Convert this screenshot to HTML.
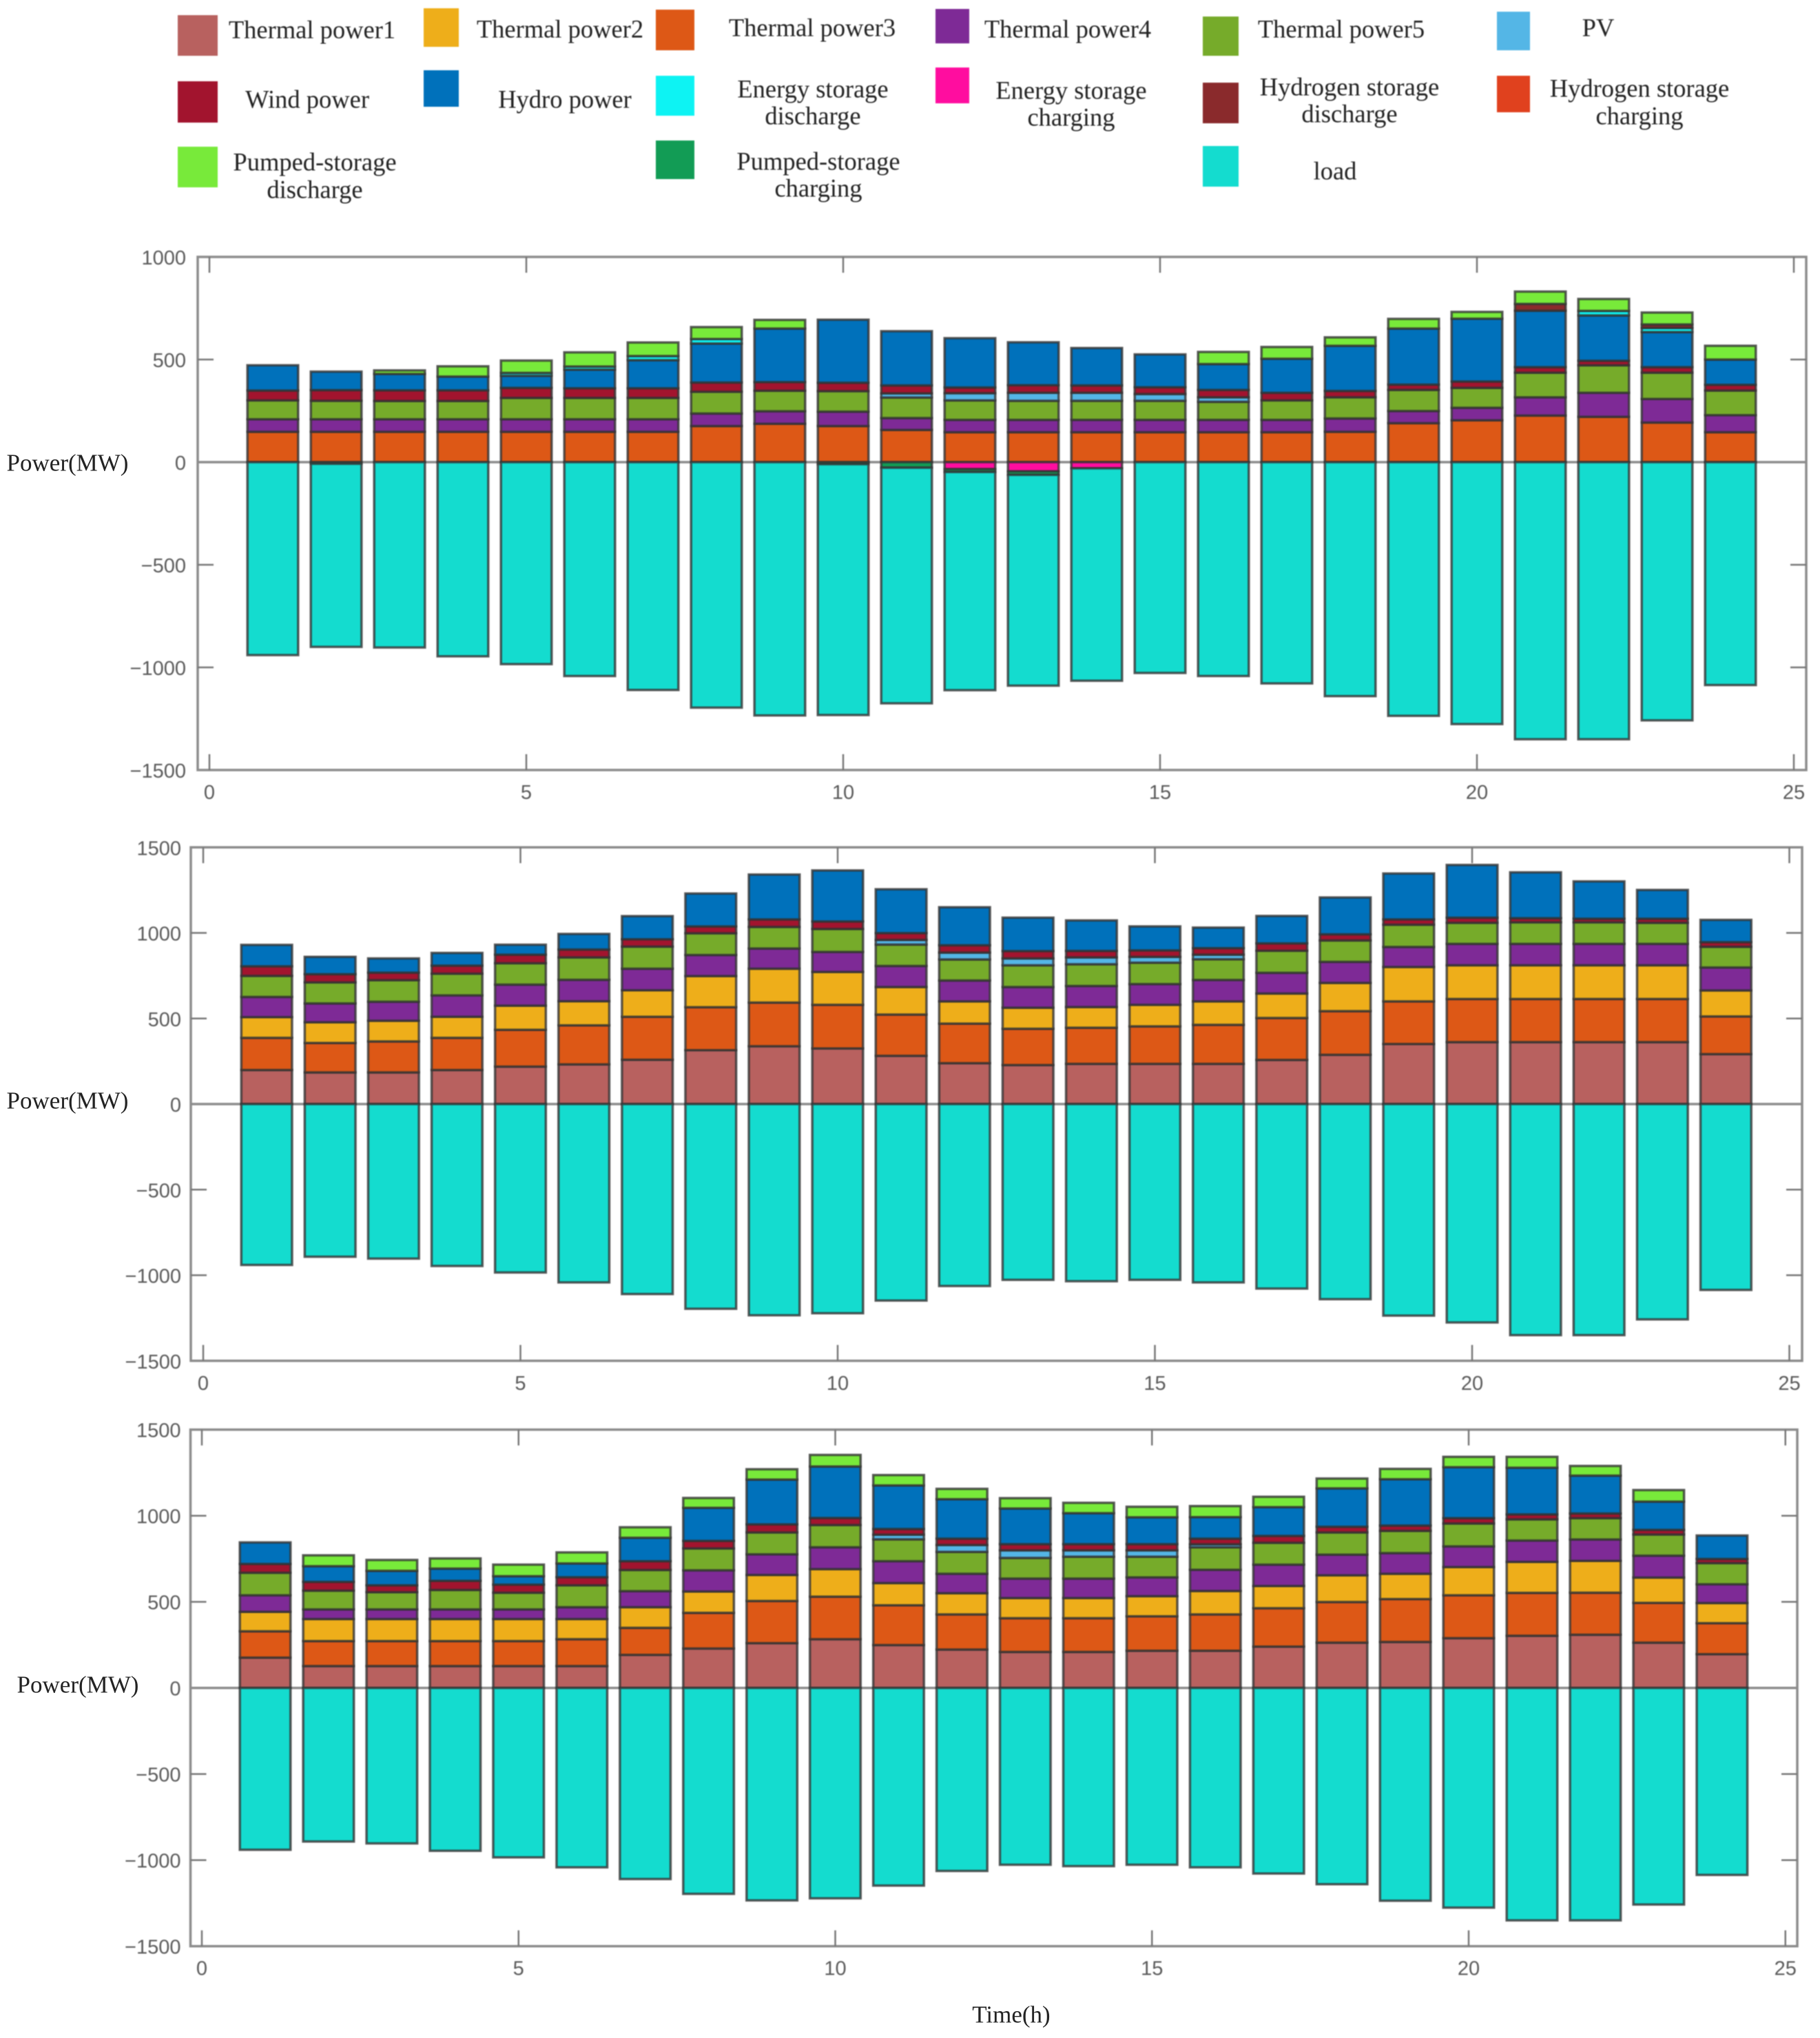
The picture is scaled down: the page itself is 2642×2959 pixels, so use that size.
<!DOCTYPE html>
<html lang="en">
<head>
<meta charset="utf-8">
<title>Stacked power balance charts</title>
<style>
html,body{margin:0;padding:0;background:#fff;}
#figure{display:block;width:2642px;height:2959px;}
.lg{font-family:"Liberation Serif",serif;font-size:36.5px;fill:#222;text-anchor:middle;dominant-baseline:central;}
.tk{font-family:"Liberation Sans",sans-serif;font-size:29px;fill:#5a5a5a;dominant-baseline:central;}
.yt{font-family:"Liberation Serif",serif;font-size:35px;fill:#222;text-anchor:middle;dominant-baseline:central;}
#charts,#legend{filter:blur(0.8px);}
</style>
</head>
<body>
<svg id="figure" xmlns="http://www.w3.org/2000/svg" width="2642" height="2959" viewBox="0 0 2642 2959">
<rect x="0" y="0" width="2642" height="2959" fill="#fff"/>
<g id="legend">
<g><rect x="258" y="22" width="58" height="59" fill="#b8615f"/><text class="lg" x="453" y="43">Thermal power1</text></g>
<g><rect x="615" y="12" width="51" height="56" fill="#eeae1a"/><text class="lg" x="813" y="42">Thermal power2</text></g>
<g><rect x="952" y="14" width="56" height="59" fill="#dd5816"/><text class="lg" x="1179" y="40">Thermal power3</text></g>
<g><rect x="1358" y="13" width="49" height="50" fill="#7e2a96"/><text class="lg" x="1550" y="42">Thermal power4</text></g>
<g><rect x="1746" y="24" width="52" height="57" fill="#76ab2a"/><text class="lg" x="1947" y="42">Thermal power5</text></g>
<g><rect x="2173" y="17" width="48" height="56" fill="#54b6e6"/><text class="lg" x="2320" y="40">PV</text></g>
<g><rect x="258" y="118" width="58" height="60" fill="#a2142e"/><text class="lg" x="446" y="144">Wind power</text></g>
<g><rect x="615" y="102" width="51" height="53" fill="#0071bb"/><text class="lg" x="820" y="144">Hydro power</text></g>
<g><rect x="952" y="110" width="56" height="58" fill="#0df3f3"/><text class="lg" x="1180" y="129">Energy storage</text><text class="lg" x="1180" y="168">discharge</text></g>
<g><rect x="1358" y="98" width="49" height="52" fill="#ff0d9f"/><text class="lg" x="1555" y="131">Energy storage</text><text class="lg" x="1555" y="170">charging</text></g>
<g><rect x="1746" y="120" width="52" height="59" fill="#8a2a2c"/><text class="lg" x="1959" y="126">Hydrogen storage</text><text class="lg" x="1959" y="165">discharge</text></g>
<g><rect x="2173" y="110" width="48" height="53" fill="#e0411e"/><text class="lg" x="2380" y="128">Hydrogen storage</text><text class="lg" x="2380" y="168">charging</text></g>
<g><rect x="258" y="213" width="58" height="59" fill="#78ea3a"/><text class="lg" x="457" y="235">Pumped-storage</text><text class="lg" x="457" y="275">discharge</text></g>
<g><rect x="952" y="204" width="56" height="56" fill="#129c55"/><text class="lg" x="1188" y="234">Pumped-storage</text><text class="lg" x="1188" y="273">charging</text></g>
<g><rect x="1746" y="212" width="52" height="59" fill="#14dccf"/><text class="lg" x="1938" y="248">load</text></g>
</g>
<text class="yt" x="98" y="672">Power(MW)</text>
<text class="yt" x="98" y="1598">Power(MW)</text>
<text class="yt" x="113" y="2446">Power(MW)</text>
<text class="yt" x="1468" y="2925">Time(h)</text>
<g id="charts"></g>
</svg>
<script>
// Shared categories and tick labels
const hours = [1,2,3,4,5,6,7,8,9,10,11,12,13,14,15,16,17,18,19,20,21,22,23,24];
const xTickLabels = [0,5,10,15,20,25];
const topYTickLabels = [1000,500,0,-500,-1000,-1500];
const lowerYTickLabels = [1500,1000,500,0,-500,-1000,-1500];
const noPower = [0,0,0,0,0,0,0,0,0,0,0,0,0,0,0,0,0,0,0,0,0,0,0,0];
const loadDemand = [940,892,903,946,984,1042,1110,1196,1234,1222,1148,1063,1027,1035,1027,1042,1078,1140,1236,1276,1350,1350,1258,1086];

// Top chart series (MW)
const topThermal3 = [148,148,148,148,148,148,148,176,187,176,157,146,146,146,146,146,146,148,190,204,227,221,193,146];
const topThermal4 = [61,61,61,61,61,61,61,61,61,70,58,60,60,60,60,60,60,65,59,61,89,117,115,83];
const topThermal5 = [92,90,89,89,104,104,104,106,100,100,100,95,93,93,93,88,95,103,103,97,120,134,128,120];
const topPv = [0,0,0,0,0,0,0,0,0,0,20,35,39,39,33,22,0,0,0,0,0,0,0,0];
const topWind = [48,52,52,52,49,47,47,45,42,41,39,28,37,36,33,36,37,31,26,31,27,22,27,28];
const topHydro = [123,90,80,67,59,91,137,190,261,307,264,240,209,182,160,126,166,220,273,306,275,221,171,123];
const topStorageDischarge = [0,0,0,0,14,15,20,22,0,0,0,0,0,0,0,0,0,0,0,0,0,22,20,0];
const topHydrogenDischarge = [0,0,0,0,0,0,0,0,0,0,0,0,0,0,0,0,0,0,0,0,33,0,17,0];
const topPumpedDischarge = [0,0,17,50,60,69,66,58,42,0,0,0,0,0,0,59,57,41,47,33,60,58,58,67];
const topStorageCharging = [0,0,0,0,0,0,0,0,0,0,0,34,45,30,0,0,0,0,0,0,0,0,0,0];
const topPumpedCharging = [0,8,0,0,0,0,0,0,0,10,27,14,17,0,0,0,0,0,0,0,0,0,0,0];

// Middle chart series (MW)
const midThermal1 = [199,185,185,199,219,232,259,315,338,325,282,239,228,235,235,235,258,288,351,362,362,362,362,292];
const midThermal3 = [188,172,181,188,215,228,251,251,255,255,241,231,212,211,219,228,245,255,249,252,252,252,252,220];
const midThermal2 = [121,121,121,123,141,141,155,182,198,192,161,130,123,121,126,137,143,165,201,197,197,197,197,152];
const midThermal4 = [118,110,111,125,123,125,126,123,118,117,123,122,121,123,121,125,121,123,117,125,125,125,125,134];
const midThermal5 = [123,123,126,127,125,131,129,127,126,134,125,123,127,127,125,121,129,125,130,123,126,126,123,121];
const midPv = [0,0,0,0,0,0,0,0,0,0,27,40,40,40,34,27,0,0,0,0,0,0,0,0];
const midWind = [56,48,44,47,50,46,43,40,44,44,40,43,43,38,38,38,43,36,31,30,24,21,24,27];
const midHydro = [125,101,83,74,58,91,135,192,262,298,256,222,195,178,140,120,160,215,268,308,268,218,168,130];

// Bottom chart series (MW)
const lowThermal1 = [176,127,127,127,127,127,192,229,260,283,249,223,209,209,216,216,240,263,267,289,303,309,263,196];
const lowThermal3 = [153,145,145,145,145,156,157,207,245,247,231,204,196,196,200,211,223,236,249,249,249,244,231,180];
const lowThermal2 = [113,128,128,128,128,117,120,124,151,160,129,123,117,117,117,136,129,155,147,164,180,185,147,117];
const lowThermal4 = [96,56,56,56,56,69,93,123,120,127,127,113,113,113,109,123,124,120,120,120,124,124,127,109];
const lowThermal5 = [131,109,100,113,97,127,123,127,127,129,127,127,120,127,120,131,127,129,129,133,123,124,123,123];
const lowPv = [0,0,0,0,0,0,0,0,0,0,27,40,44,37,37,17,0,0,0,0,0,0,0,0];
const lowWind = [51,51,40,53,47,47,51,44,47,41,33,37,36,36,36,33,40,33,31,31,29,27,27,24];
const lowHydro = [125,91,84,71,49,80,136,192,260,299,253,229,207,180,156,125,167,223,269,296,271,220,164,136];
const lowPumpedDischarge = [0,63,63,59,67,64,61,57,60,67,60,60,60,60,61,64,60,57,60,60,63,56,67,0];

const NS = 'http://www.w3.org/2000/svg';
const seriesNames = ['thermal-power1','thermal-power3','thermal-power2','thermal-power4','thermal-power5','pv','wind-power','hydro-power','energy-storage-discharge','hydrogen-storage-discharge','pumped-storage-discharge'];
const seriesColors = ['#b8615f','#dd5816','#eeae1a','#7e2a96','#76ab2a','#54b6e6','#a2142e','#0071bb','#0df3f3','#8a2a2c','#78ea3a'];
const chartsRoot = document.getElementById('charts');

function make(tag, attrs, parent) {
  const el = document.createElementNS(NS, tag);
  for (const k in attrs) el.setAttribute(k, attrs[k]);
  parent.appendChild(el);
  return el;
}

function drawChart(cfg) {
  const xOf = t => cfg.x0 + cfg.xPerHour * t;
  const yOf = v => cfg.y0 - cfg.yPerMw * v;
  const group = make('g', {}, chartsRoot);
  
  
  const axisColor = '#8c8c8c';
  const top = yOf(cfg.yTicks[0]);
  const bottom = yOf(cfg.yTicks[cfg.yTicks.length - 1]);

  const frame = make('rect', {x: cfg.left, y: top, width: cfg.right - cfg.left, height: bottom - top, fill: 'none', stroke: axisColor, 'stroke-width': 3.5}, group);
  
  

  cfg.xTicks.forEach(t => {
    const x = xOf(t);
    const upper = make('line', {x1: x, x2: x, y1: top, y2: top + 23, stroke: '#777', 'stroke-width': 2.5}, group);
    
    
    const lower = make('line', {x1: x, x2: x, y1: bottom, y2: bottom - 23, stroke: '#777', 'stroke-width': 2.5}, group);
    
    
    const label = make('text', {x: x, y: bottom + cfg.xLabelGap, class: 'tk', 'text-anchor': 'middle'}, group);
    label.textContent = String(t);
    
    
  });

  cfg.yTicks.forEach(v => {
    const y = yOf(v);
    if (v !== cfg.yTicks[0] && v !== cfg.yTicks[cfg.yTicks.length - 1]) {
      const l = make('line', {x1: cfg.left, x2: cfg.left + 23, y1: y, y2: y, stroke: '#777', 'stroke-width': 2.5}, group);
      
      
      const r = make('line', {x1: cfg.right, x2: cfg.right - 23, y1: y, y2: y, stroke: '#777', 'stroke-width': 2.5}, group);
      
      
    }
    const label = make('text', {x: cfg.left - cfg.yLabelGap, y: y + 2, class: 'tk', 'text-anchor': 'end'}, group);
    label.textContent = String(v).replace('-', '\u2212');
    
    
  });

  const zero = make('line', {x1: cfg.left, x2: cfg.right, y1: yOf(0), y2: yOf(0), stroke: axisColor, 'stroke-width': 3.5}, group);
  
  

  const barWidth = 0.8 * cfg.xPerHour;
  const drawSeg = (i, from, to, color, segName) => {
    const seg = make('rect', {
      x: xOf(hours[i]) - barWidth / 2,
      y: Math.min(yOf(from), yOf(to)),
      width: barWidth,
      height: Math.abs(yOf(from) - yOf(to)),
      fill: color,
      stroke: '#333',
      'stroke-width': 3.5,
      'stroke-opacity': 0.8
    }, group);
    
    
  };

  hours.forEach((h, i) => {
    let up = 0;
    cfg.positive.forEach((arr, s) => {
      if (arr[i] > 0) {
        drawSeg(i, up, up + arr[i], seriesColors[s], 'bar-h' + h + '-' + seriesNames[s]);
        up += arr[i];
      }
    });
    let down = 0;
    if (cfg.storageCharging[i] > 0) {
      drawSeg(i, down, down - cfg.storageCharging[i], '#ff0d9f', 'bar-h' + h + '-energy-storage-charging');
      down -= cfg.storageCharging[i];
    }
    if (cfg.pumpedCharging[i] > 0) {
      drawSeg(i, down, down - cfg.pumpedCharging[i], '#129c55', 'bar-h' + h + '-pumped-storage-charging');
      down -= cfg.pumpedCharging[i];
    }
    drawSeg(i, down, down - cfg.load[i], '#14dccf', 'bar-h' + h + '-load');
  });
}

drawChart({
  name: 'chart-top', x0: 304, xPerHour: 92, y0: 671, yPerMw: 0.298, left: 287, right: 2622,
  xLabelGap: 33, yLabelGap: 17, xTicks: xTickLabels, yTicks: topYTickLabels,
  positive: [noPower, topThermal3, noPower, topThermal4, topThermal5, topPv, topWind, topHydro, topStorageDischarge, topHydrogenDischarge, topPumpedDischarge],
  storageCharging: topStorageCharging, pumpedCharging: topPumpedCharging, load: loadDemand
});
drawChart({
  name: 'chart-middle', x0: 295, xPerHour: 92.1, y0: 1603, yPerMw: 0.2485, left: 277, right: 2616,
  xLabelGap: 33, yLabelGap: 14, xTicks: xTickLabels, yTicks: lowerYTickLabels,
  positive: [midThermal1, midThermal3, midThermal2, midThermal4, midThermal5, midPv, midWind, midHydro, noPower, noPower, noPower],
  storageCharging: noPower, pumpedCharging: noPower, load: loadDemand
});
drawChart({
  name: 'chart-bottom', x0: 293, xPerHour: 91.95, y0: 2450.7, yPerMw: 0.25, left: 276.5, right: 2609,
  xLabelGap: 33, yLabelGap: 14, xTicks: xTickLabels, yTicks: lowerYTickLabels,
  positive: [lowThermal1, lowThermal3, lowThermal2, lowThermal4, lowThermal5, lowPv, lowWind, lowHydro, noPower, noPower, lowPumpedDischarge],
  storageCharging: noPower, pumpedCharging: noPower, load: loadDemand
});
</script>
</body>
</html>
